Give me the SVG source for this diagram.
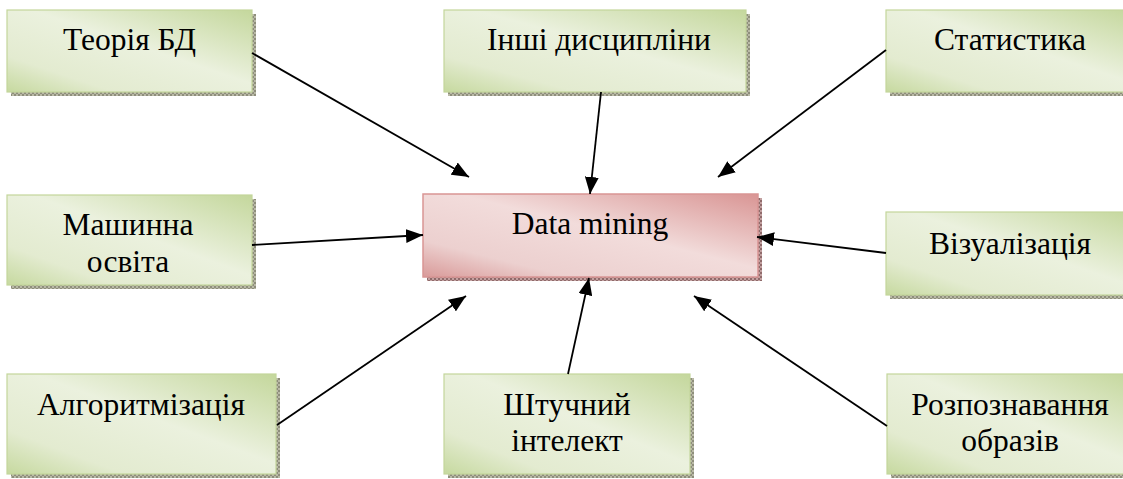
<svg xmlns="http://www.w3.org/2000/svg" width="1123" height="479" viewBox="0 0 1123 479">
<style>
.box{fill:url(#gGreen);stroke:#c3d69b;stroke-width:1.2}
.main{fill:url(#gPink);stroke:#d99594;stroke-width:1.5}
.sh{fill:url(#pShG)}
.shp{fill:url(#pShP)}
.lbl{font-size:31.5px;fill:#000;text-anchor:middle}
.conn line{stroke:#000;stroke-width:1.8;marker-end:url(#arr)}
</style>
<defs>
<linearGradient id="gGreen" x1="1" y1="0" x2="0" y2="1">
<stop offset="0" stop-color="#c4d79c"/>
<stop offset="0.45" stop-color="#ebf1de"/>
<stop offset="0.78" stop-color="#e3ebd0"/>
<stop offset="1" stop-color="#c6d99f"/>
</linearGradient>
<linearGradient id="gPink" x1="1" y1="0" x2="0" y2="1">
<stop offset="0" stop-color="#d99594"/>
<stop offset="0.45" stop-color="#f2dcdb"/>
<stop offset="0.78" stop-color="#ecd0cf"/>
<stop offset="1" stop-color="#d99a99"/>
</linearGradient>
<pattern id="pShG" width="4" height="4" patternUnits="userSpaceOnUse">
<rect width="4" height="4" fill="#b9b9a6"/>
<rect width="2" height="2" fill="#8e8e7c"/>
<rect x="2" y="2" width="2" height="2" fill="#8e8e7c"/>
</pattern>
<pattern id="pShP" width="4" height="4" patternUnits="userSpaceOnUse">
<rect width="4" height="4" fill="#c2a0a0"/>
<rect width="2" height="2" fill="#8f6a6a"/>
<rect x="2" y="2" width="2" height="2" fill="#8f6a6a"/>
</pattern>
<marker id="arr" markerWidth="18" markerHeight="14" refX="17" refY="7" orient="auto" markerUnits="userSpaceOnUse">
<path d="M0,0 L17,7 L0,14 Z" fill="#000"/>
</marker>
</defs>

<g font-family="'Liberation Serif', 'Times New Roman', serif">
<g id="n-teoriya">
<rect class="sh" x="11" y="14" width="245" height="82"/>
<rect class="box" x="7" y="10" width="245" height="82"/>
<text class="lbl" x="129.5" y="50">Теорія БД</text>
</g>
<g id="n-inshi">
<rect class="sh" x="448" y="14" width="302" height="82"/>
<rect class="box" x="444" y="10" width="302" height="82"/>
<text class="lbl" x="599" y="50">Інші дисципліни</text>
</g>
<g id="n-statystyka">
<rect class="sh" x="890" y="14" width="250" height="82"/>
<rect class="box" x="886" y="10" width="250" height="82"/>
<text class="lbl" x="1010" y="50">Статистика</text>
</g>
<g id="n-mashynna">
<rect class="sh" x="11" y="199" width="245" height="90"/>
<rect class="box" x="7" y="195" width="245" height="90"/>
<text class="lbl" x="128" y="235">Машинна</text>
<text class="lbl" x="128" y="272">освіта</text>
</g>
<g id="n-datamining">
<rect class="shp" x="427" y="198" width="335" height="83"/>
<rect class="main" x="423" y="194" width="335" height="83"/>
<text class="lbl" x="590" y="234">Data mining</text>
</g>
<g id="n-vizualizatsiya">
<rect class="sh" x="890" y="216" width="250" height="83"/>
<rect class="box" x="886" y="212" width="250" height="83"/>
<text class="lbl" x="1010" y="254">Візуалізація</text>
</g>
<g id="n-alhorytmizatsiya">
<rect class="sh" x="11" y="378" width="269" height="100"/>
<rect class="box" x="7" y="374" width="269" height="100"/>
<text class="lbl" x="141" y="415">Алгоритмізація</text>
</g>
<g id="n-shtuchnyi">
<rect class="sh" x="448" y="378" width="246" height="100"/>
<rect class="box" x="444" y="374" width="246" height="100"/>
<text class="lbl" x="567" y="415">Штучний</text>
<text class="lbl" x="567" y="451">інтелект</text>
</g>
<g id="n-rozpiznavannya">
<rect class="sh" x="891" y="378" width="250" height="100"/>
<rect class="box" x="887" y="374" width="250" height="100"/>
<text class="lbl" x="1010" y="415">Розпознавання</text>
<text class="lbl" x="1010" y="451">образів</text>
</g>
</g>

<g id="connectors" class="conn">
<line x1="252" y1="53" x2="469" y2="177"/>
<line x1="601" y1="92" x2="590" y2="194"/>
<line x1="886" y1="50" x2="718" y2="177"/>
<line x1="252" y1="245" x2="423" y2="235"/>
<line x1="886" y1="253" x2="757" y2="237"/>
<line x1="277" y1="425" x2="466" y2="296"/>
<line x1="568" y1="374" x2="589" y2="278"/>
<line x1="887" y1="426" x2="694" y2="296"/>
</g>
</svg>
